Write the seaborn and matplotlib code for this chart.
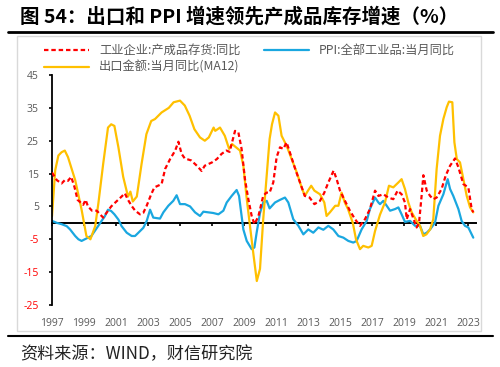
import numpy as np
import pandas as pd
import matplotlib
matplotlib.use("Agg")
import matplotlib.pyplot as plt
import seaborn as sns
from matplotlib.lines import Line2D
from matplotlib.patches import Rectangle

sns.set_theme(style="white")
plt.rcParams['font.family'] = ['Noto Sans CJK SC', 'DejaVu Sans']
plt.rcParams['axes.unicode_minus'] = False

# ---------------- data (decimal years, %) ----------------
inv_t = [1997.00, 1997.30, 1997.60, 1997.80, 1998.00, 1998.20, 1998.40, 1998.60, 1998.95, 1999.10,
         1999.25, 1999.50, 1999.80, 2000.00, 2000.20, 2000.40, 2000.70, 2001.00, 2001.35, 2001.55,
         2001.75, 2002.00, 2002.20, 2002.50, 2002.70, 2002.90, 2003.20, 2003.40, 2003.85, 2004.07,
         2004.38, 2004.70, 2004.90, 2005.10, 2005.30, 2005.70, 2006.05, 2006.35, 2006.55, 2007.00,
         2007.30, 2007.60, 2007.90, 2008.10, 2008.44, 2008.65, 2008.85, 2009.06, 2009.27, 2009.48,
         2009.65, 2009.90, 2010.20, 2010.40, 2010.60, 2010.83, 2011.04, 2011.25, 2011.46, 2011.66,
         2011.87, 2012.20, 2012.50, 2012.80, 2013.10, 2013.40, 2013.75, 2014.02, 2014.27, 2014.60,
         2014.79, 2015.00, 2015.31, 2015.62, 2015.94, 2016.25, 2016.56, 2016.87, 2017.19, 2017.40,
         2017.71, 2018.02, 2018.33, 2018.60, 2018.85, 2019.06, 2019.17, 2019.38, 2019.60, 2019.79,
         2019.94, 2020.10, 2020.21, 2020.42, 2020.63, 2020.83, 2021.04, 2021.35, 2021.60, 2021.88,
         2022.19, 2022.40, 2022.71, 2023.02, 2023.23, 2023.33]
inv_v = [15.3, 13.0, 12.0, 13.0, 12.8, 14.0, 11.0, 7.0, 5.5, 7.0,
         5.0, 3.7, 3.7, 2.6, 1.6, 3.0, 5.0, 6.4, 8.0, 9.0,
         7.0, 5.0, 3.7, 2.6, 3.0, 5.0, 8.7, 10.8, 11.8, 16.4,
         19.4, 22.0, 24.7, 21.0, 19.6, 19.0, 17.4, 15.8, 17.4, 18.4,
         19.4, 21.0, 22.0, 21.6, 28.0, 27.5, 22.5, 13.3, 7.2, 2.1,
         -0.4, 2.0, 8.2, 9.2, 9.2, 12.3, 20.0, 23.0, 22.5, 24.5,
         21.4, 16.4, 12.3, 8.2, 7.7, 5.7, 6.7, 9.2, 12.3, 15.9,
         13.3, 9.8, 6.7, 3.7, 1.1, -0.9, 1.1, 4.2, 9.8, 8.2,
         8.7, 7.7, 7.2, 9.8, 8.7, 6.2, 1.1, 4.2, 1.1, -1.4,
         0.0, 8.2, 14.5, 9.8, 8.2, 7.2, 7.7, 10.3, 14.3, 17.4,
         19.6, 16.9, 11.8, 10.8, 4.2, 3.2]

ppi_t = [1997.00, 1997.30, 1997.60, 1997.92, 1998.13, 1998.45, 1998.65, 1998.85, 1999.05, 1999.25,
         1999.46, 1999.67, 1999.88, 2000.10, 2000.30, 2000.50, 2000.70, 2000.90, 2001.15, 2001.35,
         2001.67, 2001.98, 2002.19, 2002.40, 2002.71, 2002.92, 2003.13, 2003.33, 2003.75, 2003.96,
         2004.27, 2004.58, 2004.79, 2005.00, 2005.31, 2005.63, 2005.94, 2006.25, 2006.46, 2006.77,
         2007.08, 2007.40, 2007.71, 2007.92, 2008.23, 2008.54, 2008.69, 2008.85, 2008.96, 2009.17,
         2009.48, 2009.65, 2009.79, 2010.00, 2010.20, 2010.42, 2010.60, 2010.94, 2011.25, 2011.56,
         2011.77, 2012.08, 2012.40, 2012.71, 2013.02, 2013.33, 2013.65, 2013.96, 2014.27, 2014.58,
         2014.90, 2015.21, 2015.52, 2015.83, 2016.04, 2016.35, 2016.67, 2016.87, 2017.19, 2017.40,
         2017.50, 2017.71, 2017.92, 2018.13, 2018.44, 2018.65, 2018.85, 2019.06, 2019.38, 2019.69,
         2020.00, 2020.21, 2020.42, 2020.63, 2020.94, 2021.15, 2021.46, 2021.73, 2021.88, 2022.08,
         2022.40, 2022.60, 2022.81, 2023.02, 2023.33]
ppi_v = [0.6, 0.0, -0.4, -1.0, -2.0, -4.0, -5.0, -5.5, -5.0, -4.5,
         -4.0, -2.5, -1.0, 0.6, 2.0, 4.0, 3.6, 2.6, 1.0, -1.0,
         -3.0, -4.0, -4.0, -3.0, -1.5, 0.6, 4.0, 1.6, 1.3, 3.2,
         5.2, 6.7, 8.4, 5.7, 5.7, 5.0, 3.2, 2.1, 3.4, 3.2,
         3.0, 2.6, 3.7, 6.2, 8.2, 10.0, 8.2, 2.1, -2.0, -5.5,
         -8.0, -7.5, -3.0, 3.0, 6.2, 6.7, 4.4, 6.2, 7.0, 7.7,
         6.2, 1.1, -0.9, -3.5, -2.0, -3.0, -1.4, -2.1, -0.9, -2.0,
         -4.0, -4.5, -5.5, -6.0, -5.5, -2.0, 0.6, 4.2, 7.7, 6.2,
         5.7, 6.7, 5.2, 3.7, 4.2, 4.7, 2.6, 0.3, 0.6, -0.9,
         -0.9, -3.5, -3.0, -2.0, 0.1, 5.2, 8.7, 13.3, 10.3, 8.2,
         4.2, 0.6, -0.9, -1.4, -4.5]

exp_t = [1997.00, 1997.20, 1997.40, 1997.60, 1997.80, 1998.00, 1998.45, 1998.85, 1999.15, 1999.40,
         1999.70, 1999.90, 2000.20, 2000.50, 2000.70, 2000.90, 2001.15, 2001.45, 2001.75, 2001.90,
         2002.05, 2002.30, 2002.60, 2002.90, 2003.20, 2003.44, 2003.85, 2004.30, 2004.60, 2005.00,
         2005.30, 2005.60, 2005.90, 2006.25, 2006.55, 2006.80, 2007.10, 2007.20, 2007.50, 2007.80,
         2008.07, 2008.25, 2008.50, 2008.75, 2008.96, 2009.15, 2009.40, 2009.60, 2009.80, 2010.00,
         2010.20, 2010.40, 2010.60, 2010.75, 2010.94, 2011.15, 2011.35, 2011.66, 2011.98, 2012.30,
         2012.60, 2012.80, 2013.00, 2013.20, 2013.40, 2013.75, 2014.02, 2014.16, 2014.37, 2014.70,
         2014.90, 2015.10, 2015.30, 2015.50, 2015.80, 2016.00, 2016.25, 2016.45, 2016.77, 2016.98,
         2017.19, 2017.50, 2017.81, 2018.06, 2018.33, 2018.65, 2018.85, 2019.06, 2019.27, 2019.48,
         2019.79, 2020.00, 2020.20, 2020.40, 2020.63, 2020.83, 2021.04, 2021.25, 2021.46, 2021.67,
         2021.81, 2022.02, 2022.15, 2022.30, 2022.50, 2022.71, 2022.92, 2023.13, 2023.33]
exp_v = [2.0, 16.0, 20.5, 21.5, 22.0, 20.0, 13.0, 4.0, -4.0, -5.0,
         -1.0, 6.0, 18.0, 29.0, 30.0, 29.5, 23.0, 14.0, 8.0, 9.5,
         6.5, 8.0, 18.0, 27.0, 31.0, 31.6, 33.6, 35.0, 36.7, 37.2,
         35.7, 32.6, 28.5, 26.0, 25.0, 26.0, 29.0, 28.0, 29.0, 26.5,
         22.5, 24.0, 23.0, 22.0, 17.4, 8.2, -2.0, -10.0, -17.7, -14.0,
         1.0, 13.3, 25.5, 30.0, 33.6, 32.6, 26.5, 23.5, 19.4, 15.3,
         10.8, 8.2, 9.8, 11.3, 9.8, 8.7, 6.2, 2.1, 3.2, 5.2,
         5.2, 9.2, 6.2, 4.2, 0.0, -5.0, -8.0, -7.0, -7.5, -7.0,
         -2.5, 2.5, 6.2, 11.3, 10.8, 12.3, 13.3, 10.3, 6.2, 3.2,
         0.6, -0.9, -4.0, -3.5, -2.0, 1.1, 16.4, 26.5, 31.6, 35.2,
         36.9, 36.7, 24.5, 19.4, 18.4, 13.3, 8.2, 4.7, 3.2]

labels = ["工业企业:产成品存货:同比", "PPI:全部工业品:当月同比", "出口金额:当月同比(MA12)"]
xtick_years = list(range(1997, 2024, 2))
yticks = list(range(-25, 46, 10))

RED = "#FF0000"
BLUE = "#1AA7E0"
GOLD = "#FFC000"
GRAY = "#595959"

W, H = 500, 367
fig = plt.figure(figsize=(W / 100, H / 100), dpi=100)
ax = fig.add_axes([52 / W, 1 - 305 / H, 424 / W, 230 / H])

df_inv = pd.DataFrame({"t": inv_t, "v": inv_v})
df_ppi = pd.DataFrame({"t": ppi_t, "v": ppi_v})
df_exp = pd.DataFrame({"t": exp_t, "v": exp_v})

sns.lineplot(data=df_inv, x="t", y="v", ax=ax, color=RED, linewidth=1.6,
             linestyle=(0, (2.0, 1.3)), sort=False, estimator=None, zorder=3)
sns.lineplot(data=df_ppi, x="t", y="v", ax=ax, color=BLUE, linewidth=1.6,
             sort=False, estimator=None, zorder=2)
sns.lineplot(data=df_exp, x="t", y="v", ax=ax, color=GOLD, linewidth=1.6,
             sort=False, estimator=None, zorder=2)

ax.set_xlim(1997, 2023.5)
ax.set_ylim(-25, 45)
ax.set_xlabel("")
ax.set_ylabel("")
ax.set_facecolor("white")

for s in ["top", "right"]:
    ax.spines[s].set_visible(False)
ax.spines["left"].set_color("black")
ax.spines["left"].set_linewidth(1.3)
ax.spines["bottom"].set_position(("data", 0))
ax.spines["bottom"].set_color("black")
ax.spines["bottom"].set_linewidth(1.4)
ax.spines["bottom"].set_zorder(1)

ax.set_yticks(yticks)
ax.set_yticklabels([str(v) for v in yticks])
ax.tick_params(axis="y", direction="out", length=2.5, width=1.2, color="black",
               pad=7, labelsize=7.5, left=True)
for lab, v in zip(ax.get_yticklabels(), yticks):
    lab.set_color(RED if v < 0 else GRAY)
    lab.set_fontfamily(["Open Sans", "DejaVu Sans"])

ax.set_xticks(xtick_years)
ax.tick_params(axis="x", direction="out", length=2.5, width=1.2, color="black",
               bottom=True, labelbottom=False)

sec = ax.secondary_xaxis(0)
sec.set_xticks(xtick_years)
sec.set_xticklabels([str(y) for y in xtick_years])
sec.tick_params(axis="x", length=0, pad=9, labelsize=7.5, labelcolor=GRAY)
sec.spines["bottom"].set_visible(False)
for lab in sec.get_xticklabels():
    lab.set_fontfamily(["Open Sans", "DejaVu Sans"])

# legend
handles = [Line2D([], [], color=RED, lw=1.6, linestyle=(0, (2.0, 1.3))),
           Line2D([], [], color=GOLD, lw=1.6),
           Line2D([], [], color=BLUE, lw=1.6)]
fig.legend(handles=handles, labels=[labels[0], labels[2], labels[1]], ncol=2,
           loc="upper left", bbox_to_anchor=(44 / W, 1 - 44 / H), frameon=False,
           fontsize=8.8, handlelength=3.7, handletextpad=0.8, columnspacing=1.9,
           labelspacing=0.3, borderpad=0, borderaxespad=0, labelcolor=GRAY)

# frame, rules, title, source
fig.add_artist(Rectangle((17 / W, 1 - 331 / H), 464 / W, 295 / H, transform=fig.transFigure,
                         fill=False, edgecolor="#D9D9D9", linewidth=1.0))
fig.add_artist(Line2D([8 / W, 493 / W], [1 - 32 / H] * 2, color="black", lw=2.0))
fig.add_artist(Line2D([8 / W, 493 / W], [1 - 336 / H] * 2, color="black", lw=1.5))
fig.text(20 / W, 1 - 17 / H, "图 54：出口和 PPI 增速领先产成品库存增速（%）",
         fontsize=14, fontweight="bold", ha="left", va="center", color="black")
fig.text(20 / W, 1 - 354 / H, "资料来源：WIND，财信研究院", fontsize=12.3,
         style="italic", ha="left", va="center", color="#222222")

fig.savefig("out.png", dpi=100, facecolor="white")
